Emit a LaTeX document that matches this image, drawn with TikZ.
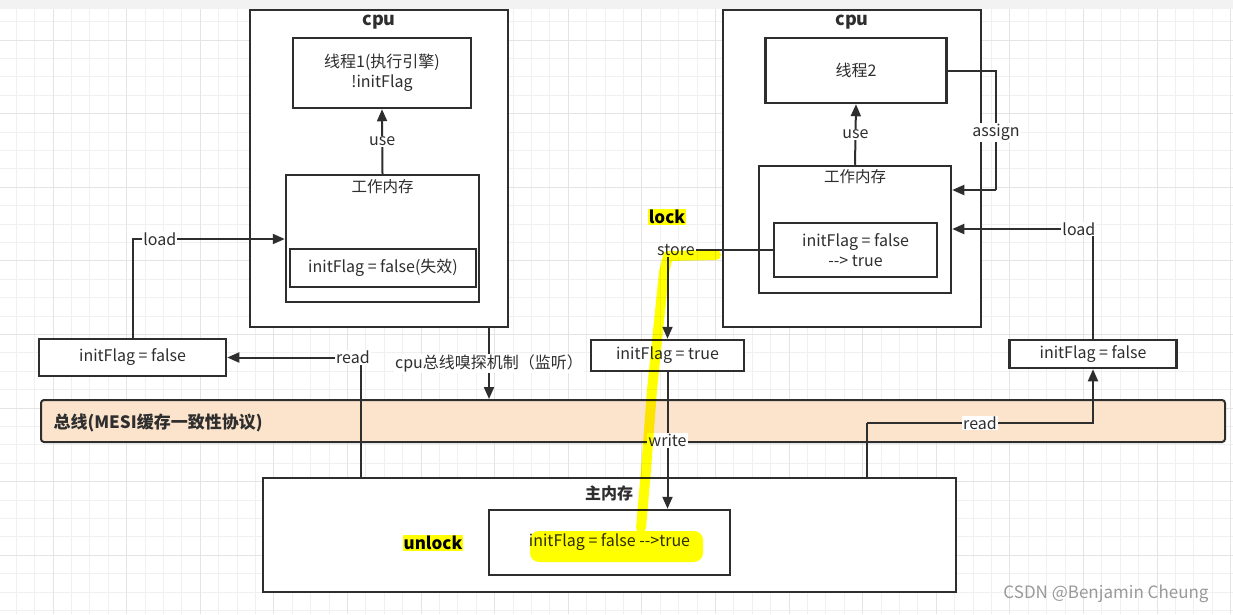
\documentclass[tikz,border=0pt]{standalone}
\usepackage{fontspec}
\setmainfont{Noto Sans CJK SC}
\usetikzlibrary{arrows.meta}
\definecolor{ink}{HTML}{2E2E2E}
\definecolor{peach}{HTML}{FCE4CC}
\definecolor{marker}{HTML}{FFFF00}
\definecolor{gridc}{HTML}{F0F0F0}
\definecolor{gridm}{HTML}{E4E4E4}
\begin{document}
\begin{tikzpicture}[x=1pt,y=-1pt,
  box/.style={draw=ink, line width=2.5pt, fill=white, inner sep=0pt, text=ink, align=center, font=\fontsize{16}{20}\selectfont},
  title/.style={text=ink, font=\fontsize{18}{20}\selectfont\bfseries},
  txt/.style={text=ink, font=\fontsize{15.5}{18}\selectfont},
  tag/.style={fill=white, text=ink, inner sep=1pt, font=\fontsize{16}{18}\selectfont},
  wire/.style={draw=ink, line width=2pt},
  arr/.style={wire, -{Triangle[length=12pt,width=10pt]}},
  hilite/.style={fill=marker, text=black, inner sep=1pt, font=\fontsize{17}{20}\selectfont\bfseries},
  hl/.style={draw=marker, line width=10pt, line cap=round, line join=round, blend mode=multiply}]
\useasboundingbox (0,0) rectangle (1233,614);

% background grid
\foreach \k in {0,...,66} \draw[gridc, line width=0.8pt] ({16.2+18.4*\k},0) -- ({16.2+18.4*\k},614);
\foreach \k in {0,...,33} \draw[gridc, line width=0.8pt] (0,{3.2+18.4*\k}) -- (1233,{3.2+18.4*\k});
\foreach \k in {0,...,17} \draw[gridm, line width=1pt] ({-20.6+73.6*\k},0) -- ({-20.6+73.6*\k},614);
\foreach \k in {0,...,9} \draw[gridm, line width=1pt] (0,{-33.6+73.6*\k}) -- (1233,{-33.6+73.6*\k});
\fill[gray!10] (0,0) rectangle (1233,9);

% bus
\node[draw=ink, line width=2pt, fill=peach, rounded corners=3pt, inner sep=0pt, minimum width=1184pt, minimum height=42pt] (bus) at (633,421) {};
\node[anchor=west, text=ink, font=\fontsize{17}{20}\selectfont\bfseries] (bust) at (50,423) {总线(MESI缓存一致性协议)};

% cpu 1
\node[box, minimum width=258pt, minimum height=317pt] (cpu1) at (379,168.5) {};
\node[title] (cpu1t) at (379,22) {cpu};
\node[box, minimum width=178pt, minimum height=70pt] (th1) at (382,73) {线程1(执行引擎)\\!initFlag};
\node[box, minimum width=193pt, minimum height=127pt] (wm1) at (382.5,238.5) {};
\node[txt] (wm1t) at (382.5,187) {工作内存};
\node[box, minimum width=186pt, minimum height=38pt] (in1) at (383,268) {initFlag = false(失效)};

% cpu 2
\node[box, minimum width=258pt, minimum height=317pt] (cpu2) at (852,168.5) {};
\node[title] (cpu2t) at (852,22) {cpu};
\node[box, minimum width=181pt, minimum height=65pt] (th2) at (856,70.5) {线程2};
\node[box, minimum width=192pt, minimum height=127pt] (wm2) at (855,229.5) {};
\node[txt] (wm2t) at (855,177) {工作内存};
\node[box, minimum width=163pt, minimum height=54pt] (in2) at (855.5,250) {initFlag = false\\-{}-> true};

% copies between cpu and bus
\node[box, minimum width=187pt, minimum height=37pt] (f1) at (132.5,357.5) {initFlag = false};
\node[box, minimum width=153pt, minimum height=31pt] (tb) at (667.5,355.5) {initFlag = true};
\node[box, minimum width=167pt, minimum height=28pt] (f2) at (1093,354) {initFlag = false};

% main memory
\node[box, minimum width=693pt, minimum height=114pt] (mm) at (609.5,535) {};
\node[text=ink, font=\fontsize{16}{19}\selectfont\bfseries] (mmt) at (609,493) {主内存};
\node[box, minimum width=241pt, minimum height=65pt] (mi) at (609.5,542.5) {initFlag = false -{}->true};

\coordinate (ld1) at (0,239);
\coordinate (ld2) at (0,229);
\coordinate (asg) at (996,190);
\coordinate (sn) at (489,0);
\coordinate (rl) at (361,358);
\coordinate (rr) at (867,423);

\path[arr] (wm1.north) -- node[tag]{use} (th1.south);
\path[arr] (wm2.north) -- node[tag]{use} (th2.south);
\path[arr] (f1.north) |- node[tag, pos=0.59]{load} (wm1.west |- ld1);
\path[arr] (mm.north -| rl) |- node[tag, pos=0.53]{read} (f1.east);
\path[arr] (cpu1.south -| sn) -- node[tag]{cpu总线嗅探机制（监听）} (bus.north -| sn);
\path[wire] (th2.east) -| node[tag, pos=0.76]{assign} (asg);
\path[arr] (asg) -- (asg -| wm2.east);
\path[arr] (f2.north) |- node[tag, pos=0.55]{load} (wm2.east |- ld2);
\path[arr] (in2.west) -| node[tag, pos=0.46]{store} (tb.north);
\path[arr] (tb.south) -- node[tag]{write} (tb.south |- mi.north);
\path[wire] (mm.north -| rr) -- (rr);
\path[arr] (rr) -| node[tag, pos=0.25]{read} (f2.south);

\node[hilite] (lock) at (667,217) {lock};
\node[hilite] (unlock) at (433,543) {unlock};

% marker strokes
\draw[hl] (716,255) -- (668,256) -- (664,272) -- (652,390) -- (646,470) -- (641,528);
\fill[marker, blend mode=multiply, rounded corners=9pt] (530,531) rectangle (703,562);

\node[text=gray!80, font=\fontsize{17}{18}\selectfont] (mark) at (1106,594) {CSDN @Benjamin Cheung};
\end{tikzpicture}
\end{document}
